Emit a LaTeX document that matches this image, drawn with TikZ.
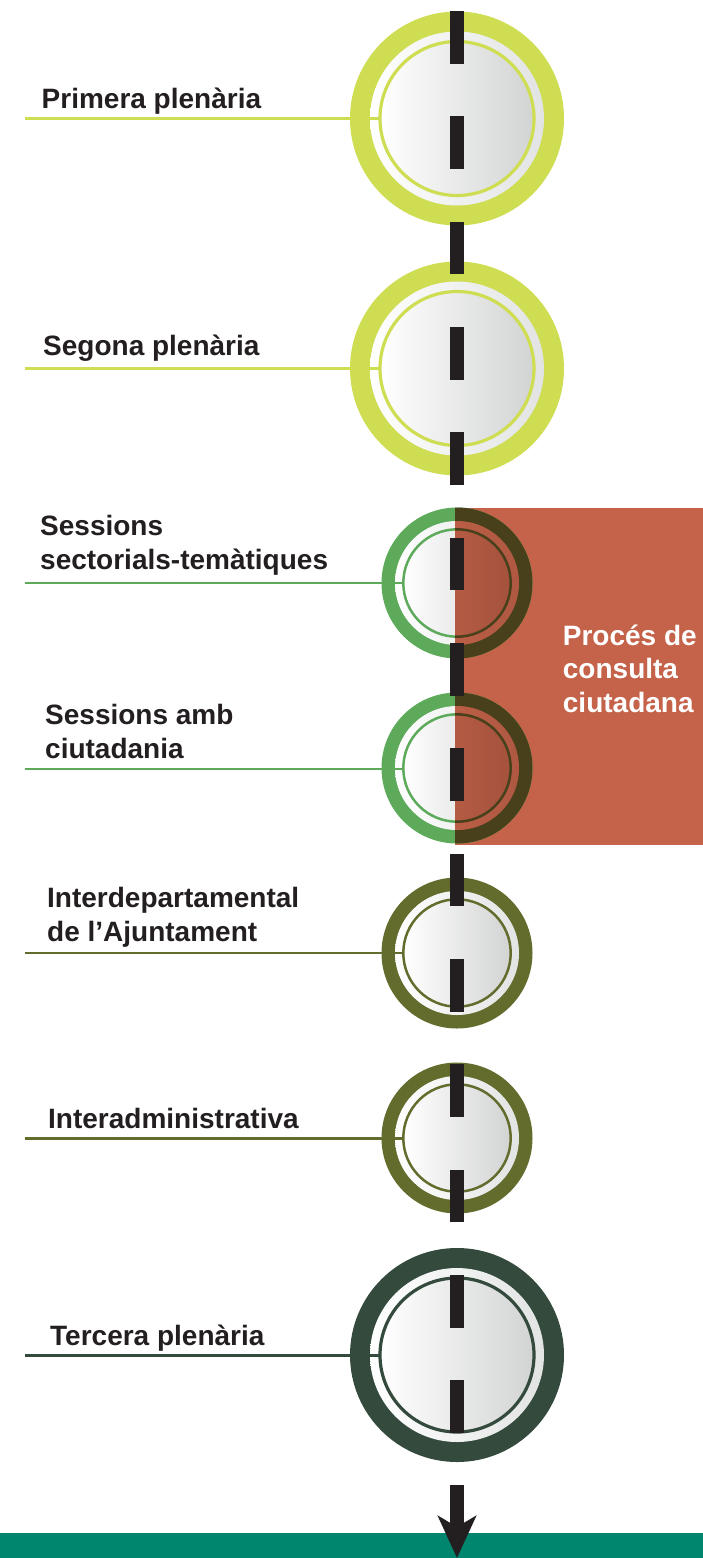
\documentclass[tikz,border=0pt]{standalone}
\usepackage{fontspec}
\setmainfont{Liberation Sans}
\usetikzlibrary{arrows.meta}
\definecolor{lime}{RGB}{207,221,82}
\definecolor{leaf}{RGB}{93,170,91}
\definecolor{olive}{RGB}{99,108,45}
\definecolor{pine}{RGB}{51,74,60}
\definecolor{bandteal}{RGB}{0,133,111}
\definecolor{brick}{RGB}{197,99,74}
\definecolor{ink}{RGB}{35,31,32}
\definecolor{ringgrey}{RGB}{226,227,227}
\definecolor{discgrey}{RGB}{210,212,211}
\definecolor{leafmult}{RGB}{72,64,26}
\definecolor{ringmult}{RGB}{175,88,66}
\definecolor{discmult}{RGB}{164,82,61}
\newcommand{\stagedisc}[6]{%
  \fill[#6] (#1) circle[radius=#2];
  \shade[left color=white, right color=ringgrey] (#1) circle[radius=#3];
  \shade[left color=white, right color=discgrey] (#1) circle[radius=#4];
  \draw[#6, line width=#5] (#1) circle[radius=#4];
}
\tikzset{
  lab/.style={anchor=base west, inner sep=0pt, text=ink,
    font=\bfseries\fontsize{28}{34}\selectfont},
  whitelab/.style={anchor=base west, inner sep=0pt, text=white,
    font=\bfseries\fontsize{28}{33.5}\selectfont},
  bigline/.style={line width=3},
  smallline/.style={line width=2.5},
  barline/.style={ink, line width=13.3, dash pattern=on 52.67pt off 52.67pt},
}
\begin{document}
\begin{tikzpicture}[x=1pt, y=-1pt]
\useasboundingbox (0,0) rectangle (703,1558);
% centres
\coordinate (c1) at (457,118.5);
\coordinate (c2) at (457,368.5);
\coordinate (c3) at (457,583);
\coordinate (c4) at (457,768);
\coordinate (c5) at (457,953);
\coordinate (c6) at (457,1138);
\coordinate (c7) at (457,1355);
% orange block
\fill[brick] (455,507.7) rectangle (703,845);
% discs
\stagedisc{c1}{107}{87}{77}{3.2}{lime}
\stagedisc{c2}{107}{87}{77}{3.2}{lime}
\stagedisc{c3}{75.5}{62}{53.7}{2.5}{leaf}
\stagedisc{c4}{75.5}{62}{53.7}{2.5}{leaf}
\stagedisc{c5}{75.5}{62}{53.7}{2.5}{olive}
\stagedisc{c6}{75.5}{62}{53.7}{2.5}{olive}
\stagedisc{c7}{107}{87}{77}{3.2}{pine}
% right halves under the orange block
\begin{scope}
  \clip (455,507.7) rectangle (703,845);
  \foreach \c in {c3,c4}{
    \fill[leafmult] (\c) circle[radius=75.5];
    \shade[left color=brick, right color=ringmult] (\c) circle[radius=62];
    \shade[left color=brick, right color=discmult] (\c) circle[radius=53.7];
    \draw[leafmult, line width=2.5] (\c) circle[radius=53.7];
  }
\end{scope}
% leader lines
\coordinate (s1) at (25,118.5);
\coordinate (s2) at (25,368.5);
\coordinate (s3) at (25,583);
\coordinate (s4) at (25,769);
\coordinate (s5) at (25,953);
\coordinate (s6) at (25,1138.5);
\coordinate (s7) at (25,1355.5);
\draw[lime, bigline] (s1) -- ([xshift=-77pt]c1 |- s1);
\draw[lime, bigline] (s2) -- ([xshift=-77pt]c2 |- s2);
\draw[leaf, smallline] (s3) -- ([xshift=-53.7pt]c3 |- s3);
\draw[leaf, smallline] (s4) -- ([xshift=-53.7pt]c4 |- s4);
\draw[olive, smallline] (s5) -- ([xshift=-53.7pt]c5 |- s5);
\draw[olive, smallline] (s6) -- ([xshift=-53.7pt]c6 |- s6);
\draw[pine, smallline] (s7) -- ([xshift=-77pt]c7 |- s7);
% dashed spine
\coordinate (top) at (457,11);
\coordinate (spineend) at (457,1433);
\draw[barline] (top) -- (spineend);
% bottom band and arrow
\fill[bandteal] (0,1533) rectangle (703,1558);
\coordinate (ashaft) at (457,1485);
\coordinate (atip) at (457,1558);
\draw[ink, line width=13.3, -{Stealth[length=42pt, width=38pt, inset=11pt]}] (ashaft) -- (atip);
% labels
\node[lab] (t1) at (41.5,108) {Primera plenària};
\node[lab] (t2) at (43,355) {Segona plenària};
\node[lab] (t3) at (40,535.7) {\begin{tabular}[t]{@{}l@{}}Sessions\\sectorials-temàtiques\end{tabular}};
\node[lab] (t4) at (45,724.3) {\begin{tabular}[t]{@{}l@{}}Sessions amb\\ciutadania\end{tabular}};
\node[lab] (t5) at (47,907.3) {\begin{tabular}[t]{@{}l@{}}Interdepartamental\\de l’Ajuntament\end{tabular}};
\node[lab] (t6) at (48,1128.3) {Interadministrativa};
\node[lab] (t7) at (50,1345) {Tercera plenària};
\node[whitelab] (t8) at (562.7,645) {\begin{tabular}[t]{@{}l@{}}Procés de\\consulta\\ciutadana\end{tabular}};
\end{tikzpicture}
\end{document}
